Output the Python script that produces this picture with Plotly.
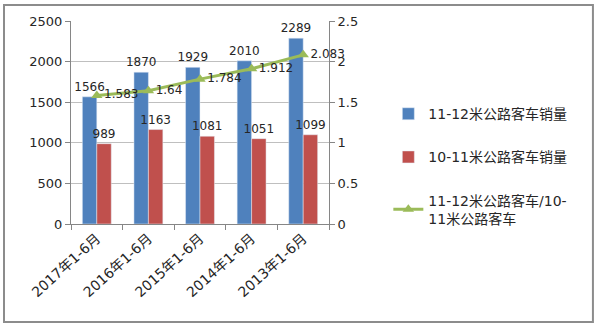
import plotly.graph_objects as go

categories = ["2017年1-6月", "2016年1-6月", "2015年1-6月", "2014年1-6月", "2013年1-6月"]
sales_11_12 = [1566, 1870, 1929, 2010, 2289]
sales_10_11 = [989, 1163, 1081, 1051, 1099]
ratio = [1.583, 1.64, 1.784, 1.912, 2.083]
left_ticks = [0, 500, 1000, 1500, 2000, 2500]
right_ticks = [0, 0.5, 1, 1.5, 2, 2.5]

FONT = "DejaVu Sans, Noto Sans CJK SC"
TXT = "#262626"

fig = go.Figure()
fig.add_trace(go.Bar(
    x=categories, y=sales_11_12, name="11-12米公路客车销量",
    marker_color="#4F81BD", text=[str(v) for v in sales_11_12],
    textposition="outside", constraintext="none", textfont=dict(size=12, color=TXT),
    cliponaxis=False, legendgroup="a"))
fig.add_trace(go.Bar(
    x=categories, y=sales_10_11, name="10-11米公路客车销量",
    marker_color="#C0504D", text=[str(v) for v in sales_10_11],
    textposition="outside", constraintext="none", textfont=dict(size=12, color=TXT),
    cliponaxis=False, legendgroup="b"))
fig.add_trace(go.Scatter(
    x=categories, y=ratio, name="11-12米公路客车/10-<br>11米公路客车",
    yaxis="y2", mode="lines+markers+text",
    line=dict(color="#9BBB59", width=3),
    marker=dict(symbol="triangle-up", size=10, color="#9BBB59"),
    text=[f"{v:g}" for v in ratio], textposition="middle right",
    textfont=dict(size=12, color=TXT), cliponaxis=False, legendgroup="c"))

fig.update_layout(
    width=600, height=329,
    margin=dict(l=71, r=271, t=21, b=105),
    paper_bgcolor="white", plot_bgcolor="white",
    font=dict(family=FONT, size=13, color=TXT),
    barmode="group", bargap=0.44, bargroupgap=0,
    showlegend=True,
    legend=dict(x=1.23, y=0.62, xanchor="left", yanchor="top",
                font=dict(size=14, color=TXT), tracegroupgap=22,
                bgcolor="rgba(0,0,0,0)", itemwidth=30),
    xaxis=dict(showline=True, linecolor="#868686", linewidth=1,
               ticks="outside", tickson="boundaries", ticklen=5, tickcolor="#868686",
               tickangle=-42, tickfont=dict(size=14), showgrid=False),
    yaxis=dict(range=[0, 2500], tickvals=left_ticks, showline=True,
               linecolor="#868686", ticks="outside", ticklen=5, tickcolor="#868686",
               showgrid=True, gridcolor="#BFBFBF", gridwidth=1,
               tickfont=dict(size=13), zeroline=False),
    yaxis2=dict(range=[0, 2.5], tickvals=right_ticks, ticktext=[f"{v:g}" for v in right_ticks],
                overlaying="y", side="right", showline=True, linecolor="#868686",
                ticks="outside", ticklen=5, tickcolor="#868686", showgrid=False,
                tickfont=dict(size=13), zeroline=False),
    shapes=[dict(type="rect", xref="paper", yref="paper",
                 x0=-0.2597, x1=2.023, y0=-0.4828, y1=1.0788,
                 line=dict(color="#8C8C8C", width=2), fillcolor="rgba(0,0,0,0)")],
)

fig.write_html("out.html")
